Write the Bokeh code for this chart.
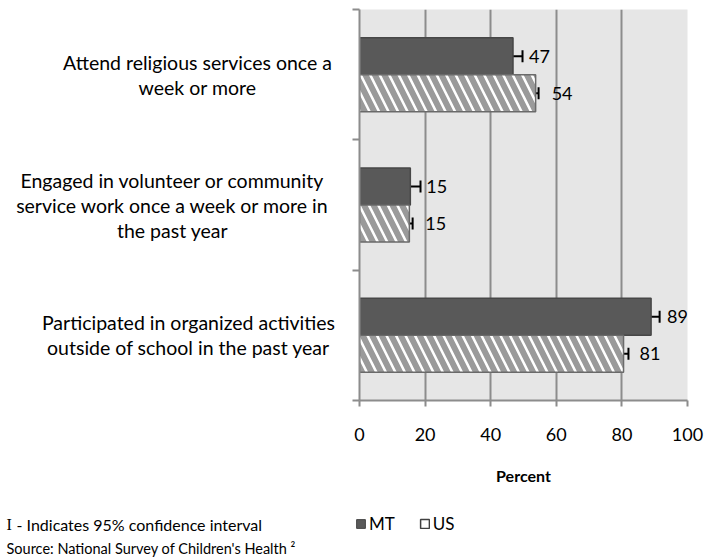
from bokeh.plotting import figure
from bokeh.layouts import column, row
from bokeh.models import (Range1d, FixedTicker, ColumnDataSource, Whisker, TeeHead,
                          LabelSet, Legend, LegendItem)
from bokeh.embed import file_html
from bokeh.resources import INLINE
from bokeh.core.properties import value

# ---- data ----
categories = [
    ["Attend religious services once a", "week or more"],
    ["Engaged in volunteer or community", "service work once a week or more in", "the past year"],
    ["Participated in organized activities", "outside of school in the past year"],
]
mt_values = [46.8, 15.5, 88.9]
us_values = [53.7, 15.2, 80.5]
mt_low = [43.8, 12.2, 86.3]
mt_high = [49.7, 18.6, 91.5]
us_low = [52.7, 13.8, 79.6]
us_high = [54.6, 16.2, 82.0]
mt_labels = ["47", "15", "89"]
us_labels = ["54", "15", "81"]
x_ticks = [0, 20, 40, 60, 80, 100]
series_names = ["MT", "US"]
footnote_mark = "I"
footnote_1 = "- Indicates 95% confidence interval"
footnote_2 = "Source: National Survey of Children's Health \u00b2"

FONT = "Lato"
n = len(categories)
centers = [i + 0.5 for i in range(n)]
bar_h = 0.284
mt_y = [c - bar_h / 2 for c in centers]
us_y = [c + bar_h / 2 for c in centers]

TOP, FH, BOT = 9, 391, 100

# ---------------- chart ----------------
p = figure(frame_width=328, frame_height=FH, min_border_left=8, min_border_right=28,
           min_border_top=TOP, min_border_bottom=BOT,
           x_range=Range1d(0, 100), y_range=Range1d(n, 0),
           output_backend="svg", toolbar_location=None)
p.background_fill_color = "#e6e6e6"
p.border_fill_color = "white"
p.outline_line_color = None

mt_src = ColumnDataSource(dict(y=mt_y, v=mt_values, lo=mt_low, hi=mt_high, lab=mt_labels))
us_src = ColumnDataSource(dict(y=us_y, v=us_values, lo=us_low, hi=us_high, lab=us_labels))

p.hbar(y="y", left=0, right="v", height=bar_h, source=mt_src,
       fill_color="#595959", line_color="#474747", line_width=1.5)
p.hbar(y="y", left=0, right="v", height=bar_h, source=us_src,
       fill_color="white", line_color="#6a6a6a", line_width=1.5,
       hatch_pattern="left_diagonal_line", hatch_color="#9a9a9a",
       hatch_scale=19, hatch_weight=6)

for src in (mt_src, us_src):
    w = Whisker(source=src, base="y", lower="lo", upper="hi", dimension="width",
                line_color="black", line_width=2,
                lower_head=TeeHead(size=12, line_width=2, line_color="black"),
                upper_head=TeeHead(size=12, line_width=2, line_color="black"))
    p.add_layout(w)
    ls = LabelSet(x="v", y="y", text="lab", source=src, x_offset=16,
                  text_align="left", text_baseline="middle",
                  text_font=value(FONT), text_font_size="18px", text_color="black")
    p.add_layout(ls)

p.xaxis.ticker = FixedTicker(ticks=x_ticks)
p.xaxis.axis_line_color = "#8c8c8c"
p.xaxis.axis_line_width = 2
p.xaxis.major_tick_line_color = "#8c8c8c"
p.xaxis.major_tick_line_width = 2
p.xaxis.major_tick_out = 6
p.xaxis.major_tick_in = 0
p.xaxis.minor_tick_line_color = None
p.xaxis.major_label_text_font = FONT
p.xaxis.major_label_text_font_size = "18px"
p.xaxis.major_label_text_color = "black"
p.xaxis.major_label_standoff = 21
p.xaxis.axis_label = "Percent"
p.xaxis.axis_label_text_font = FONT
p.xaxis.axis_label_text_font_style = "bold"
p.xaxis.axis_label_text_font_size = "16px"
p.xaxis.axis_label_text_color = "black"
p.xaxis.axis_label_standoff = 22

p.yaxis.ticker = FixedTicker(ticks=list(range(n + 1)))
p.yaxis.major_label_overrides = {i: "" for i in range(n + 1)}
p.yaxis.major_label_text_font_size = "0px"
p.yaxis.major_label_standoff = 0
p.yaxis.axis_line_color = "#8c8c8c"
p.yaxis.axis_line_width = 2
p.yaxis.major_tick_line_color = "#8c8c8c"
p.yaxis.major_tick_line_width = 2
p.yaxis.major_tick_out = 7
p.yaxis.major_tick_in = 0
p.yaxis.minor_tick_line_color = None

p.xgrid.ticker = FixedTicker(ticks=x_ticks)
p.xgrid.grid_line_color = "#8c8c8c"
p.xgrid.grid_line_width = 2
p.ygrid.grid_line_color = None

# ---------------- category labels (left panel, shared y scale) ----------------
lab = figure(frame_width=351, frame_height=FH, min_border_left=0, min_border_right=0,
             min_border_top=TOP, min_border_bottom=BOT,
             x_range=Range1d(0, 351), y_range=p.y_range,
             x_axis_location=None, y_axis_location=None,
             output_backend="svg", toolbar_location=None)
lab.grid.visible = False
lab.outline_line_color = None
lab.background_fill_color = "white"

cat_cx = [197, 172, 188]
line_gap = 25
tx, ty, tt, toff = [], [], [], []
for i, lines in enumerate(categories):
    k = len(lines)
    for j, t in enumerate(lines):
        tx.append(cat_cx[i])
        ty.append(centers[i])
        tt.append(t)
        toff.append((j - (k - 1) / 2) * line_gap)
lab.text(x="x", y="y", text="t", y_offset="o",
         source=ColumnDataSource(dict(x=tx, y=ty, t=tt, o=toff)),
         text_align="center", text_baseline="middle",
         text_font=value(FONT), text_font_size="19.5px", text_color="black")

# ---------------- footer ----------------
foot = figure(frame_width=715, frame_height=59, min_border=0,
              x_range=Range1d(0, 715), y_range=Range1d(559, 500),
              x_axis_location=None, y_axis_location=None,
              output_backend="svg", toolbar_location=None)
foot.grid.visible = False
foot.outline_line_color = None
foot.background_fill_color = "white"

foot.text(x=[6], y=[524], text=[footnote_mark], text_align="left", text_baseline="middle",
          text_font=value("Liberation Serif"), text_font_size="16px", text_color="black")
foot.text(x=[16], y=[524], text=[footnote_1], text_align="left", text_baseline="middle",
          text_font=value(FONT), text_font_size="16px", text_color="black")
foot.text(x=[6], y=[548], text=[footnote_2], text_align="left", text_baseline="middle",
          text_font=value(FONT), text_font_size="14.5px", text_color="black")

nan = float("nan")
r_mt = foot.rect(x=[nan], y=[nan], width=1, height=1, fill_color="#595959", line_color="#474747")
r_us = foot.rect(x=[nan], y=[nan], width=1, height=1, fill_color="white", line_color="#404040", line_width=1.5)
legend = Legend(items=[LegendItem(label=series_names[0], renderers=[r_mt], index=0),
                       LegendItem(label=series_names[1], renderers=[r_us], index=0)],
                orientation="horizontal", location=(355, 25),
                glyph_width=11, glyph_height=11, label_standoff=3, spacing=24,
                padding=0, margin=0, border_line_color=None, background_fill_alpha=0,
                label_text_font=FONT, label_text_font_size="17px", label_text_color="black")
foot.add_layout(legend, "center")

layout = column(row(lab, p, spacing=0), foot, spacing=0)
open("out.html", "w").write(file_html(layout, INLINE))
